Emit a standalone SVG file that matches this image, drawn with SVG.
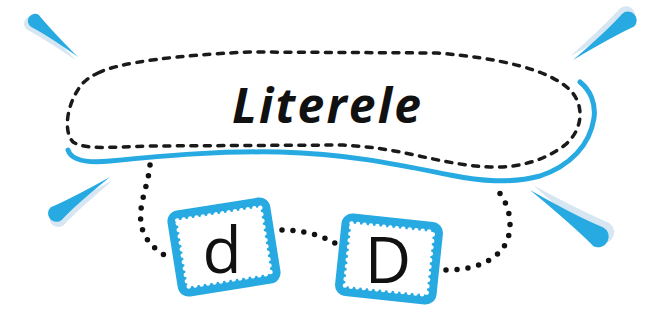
<svg xmlns="http://www.w3.org/2000/svg" xmlns:xlink="http://www.w3.org/1999/xlink" width="649" height="320" viewBox="0 0 649 320">
<style>
.dash{fill:none;stroke:#1a1a1a;stroke-width:3.5;stroke-dasharray:6 7.5;stroke-linecap:round}
.dots{fill:none;stroke:#111;stroke-width:5.5;stroke-dasharray:0 11;stroke-linecap:round}
.blue{fill:none;stroke:#27a9e1;stroke-width:5;stroke-linecap:round}
.frame{fill:#27a9e1}
.inner{fill:#fff}
.scallop{fill:none;stroke:#fff;stroke-width:4.5;stroke-dasharray:0 6.5;stroke-linecap:round}
.letter{font-family:"Open Sans","Noto Sans",sans-serif;font-size:64px;fill:#111;text-anchor:middle}
.title{font-family:"Open Sans","Noto Sans",sans-serif;font-size:48px;font-weight:bold;font-style:italic;fill:#111}
</style>
<defs>
<path id="ray" d="M0,0 Q40,-3 58,-7 A7.5,7.5 0 0 1 60,8 Q40,4 0,0 Z" fill="#27a9e1"/>
<path id="rayL" d="M0,0 Q40,-4 60,-8 A8,8 0 0 1 60,8 Q40,5 0,0 Z" fill="#d6e7f3"/>
</defs>
<g id="rays">
<g transform="translate(78,57) rotate(219.5) scale(0.95)"><use xlink:href="#rayL" y="-4"/><use xlink:href="#ray"/></g>
<g transform="translate(573,60) rotate(-36.3) scale(1.15)"><use xlink:href="#rayL" y="-4"/><use xlink:href="#ray"/></g>
<g transform="translate(110,177) rotate(145.3) scale(1.1)"><use xlink:href="#rayL" y="-4"/><use xlink:href="#ray"/></g>
<g transform="translate(530,190) rotate(33.9) scale(1.4)"><use xlink:href="#rayL" y="-4"/><use xlink:href="#ray"/></g>
</g>
<g id="connectors">
<path class="dots" d="M150,165 C148,195 122,230 166,256"/>
<path class="dots" d="M282,230 C300,230 320,234 338,245"/>
<path class="dots" d="M446,270 C482,270 510,255 510,225 C510,205 500,193 494,186"/>
</g>
<g id="title">
<path class="blue" d="M68,150 C72,162 90,163 110,161 C170,155 220,151 280,152 C350,154 400,165 450,175 C480,181 510,184 540,176 C570,166 590,145 594,118 C596,103 590,90 580,82"/>
<path fill="#fff" d="M98,73 C120,62 180,55 250,52 L437,53 C500,58 550,70 570,90 C585,105 583,130 565,145 C545,160 520,168 490,167 C460,166 430,158 400,152 C380,148 360,146 343,145 L150,146 C110,147 85,150 73,142 C62,130 68,100 83,83 C88,78 92,76 98,73 Z"/>
<path class="dash" d="M98,73 C120,62 180,55 250,52 L437,53 C500,58 550,70 570,90 C585,105 583,130 565,145 C545,160 520,168 490,167 C460,166 430,158 400,152 C380,148 360,146 343,145 L150,146 C110,147 85,150 73,142 C62,130 68,100 83,83 C88,78 92,76 98,73 Z"/>
<text class="title" x="232" y="123" textLength="189" lengthAdjust="spacing">Literele</text>
</g>
<g id="node-d" transform="translate(224,247) rotate(-9)">
<rect class="frame" x="-52" y="-43.5" width="104" height="87" rx="11"/>
<rect class="inner" x="-42" y="-33.5" width="84" height="67"/>
<rect class="scallop" x="-42" y="-33.5" width="84" height="67"/>
</g>
<text class="letter" x="222" y="273">d</text>
<g id="node-D" transform="translate(389,259) rotate(6)">
<rect class="frame" x="-51" y="-41.5" width="102" height="83" rx="11"/>
<rect class="inner" x="-41" y="-31.5" width="82" height="63"/>
<rect class="scallop" x="-41" y="-31.5" width="82" height="63"/>
</g>
<text class="letter" x="388" y="283">D</text>
</svg>
